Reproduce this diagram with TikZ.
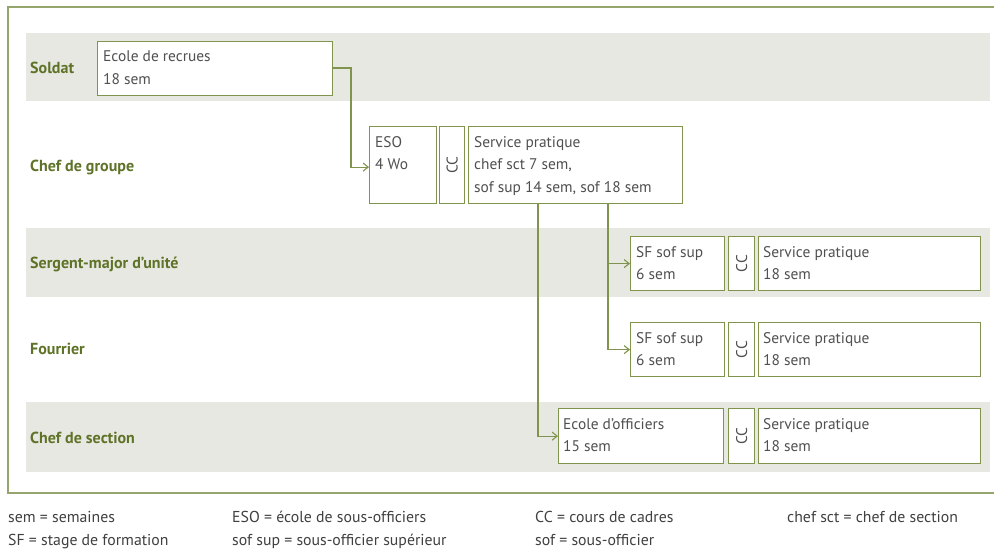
\documentclass[tikz,border=0pt]{standalone}
\usepackage{fontspec}
\setmainfont{PT Sans}
\usetikzlibrary{arrows.meta,calc}
\definecolor{olive}{RGB}{128,148,78}
\definecolor{frameol}{RGB}{150,165,110}
\definecolor{labgreen}{RGB}{95,115,40}
\definecolor{band}{RGB}{232,232,226}
\definecolor{txtgray}{RGB}{80,80,80}
\tikzset{
  box/.style={draw=olive, line width=1.2pt, fill=white, inner sep=0pt, anchor=north west},
  txt/.style={anchor=north west, inner sep=0pt, align=left, text=txtgray, font=\fontsize{15.4}{22.5}\selectfont},
  cc/.style={rotate=90, text=txtgray, font=\fontsize{15.5}{15.5}\selectfont, inner sep=0pt},
  lab/.style={anchor=west, inner sep=0pt, text=labgreen, font=\bfseries\fontsize{16}{18}\selectfont},
  leg/.style={anchor=base west, inner sep=0pt, text=black!75, font=\fontsize{15.8}{17}\selectfont},
  conn/.style={draw=olive, line width=1.1pt},
  arr/.style={conn, -{Straight Barb[length=5pt,width=8pt]}},
}
\begin{document}
\begin{tikzpicture}[x=1pt,y=-1pt]
\useasboundingbox (0,0) rectangle (994,549);
\fill[white] (0,0) rectangle (994,549);
% outer frame
\draw[frameol, line width=1.4pt] (1000,7) -- (8,7) -- (8,493) -- (1000,493);
% bands
\fill[band] (26,33) rectangle (990,101);
\fill[band] (26,228) rectangle (990,297);
\fill[band] (26,402) rectangle (990,472);
% labels
\node[lab] (lsold) at (30,68) {Soldat};
\node[lab] (lgrp) at (30,167) {Chef de groupe};
\node[lab] (lsgt) at (30,264) {Sergent-major d’unité};
\node[lab] (lfour) at (30,349) {Fourrier};
\node[lab] (lsct) at (30,438) {Chef de section};
% Soldat
\node[box, minimum width=235, minimum height=54] (rec) at (97,41) {};
\node[txt] (trec) at (103,51) {Ecole de recrues\\18 sem};
% Chef de groupe
\node[box, minimum width=67, minimum height=77] (eso) at (369,126) {};
\node[txt] (teso) at (375,136) {ESO\\4 Wo};
\node[box, minimum width=25, minimum height=77] (cc1) at (439,126) {};
\node[cc] (tcc1) at (cc1.center) {CC};
\node[box, minimum width=214, minimum height=77] (sp1) at (468,126) {};
\node[txt] (tsp1) at (474,136) {Service pratique\\chef sct 7 sem,\\sof sup 14 sem, sof 18 sem};
% Sergent-major
\node[box, minimum width=94, minimum height=54] (sf1) at (630,236) {};
\node[txt] (tsf1) at (636,246) {SF sof sup\\6 sem};
\node[box, minimum width=26, minimum height=54] (cc2) at (728,236) {};
\node[cc] (tcc2) at (cc2.center) {CC};
\node[box, minimum width=222, minimum height=54] (sp2) at (758,236) {};
\node[txt] (tsp2) at (763,246) {Service pratique\\18 sem};
% Fourrier
\node[box, minimum width=94, minimum height=54] (sf2) at (630,322) {};
\node[txt] (tsf2) at (636,332) {SF sof sup\\6 sem};
\node[box, minimum width=26, minimum height=54] (cc3) at (728,322) {};
\node[cc] (tcc3) at (cc3.center) {CC};
\node[box, minimum width=222, minimum height=54] (sp3) at (758,322) {};
\node[txt] (tsp3) at (763,332) {Service pratique\\18 sem};
% Chef de section
\node[box, minimum width=165, minimum height=55] (eo) at (558,408) {};
\node[txt] (teo) at (563,418) {Ecole d’officiers\\15 sem};
\node[box, minimum width=26, minimum height=55] (cc4) at (728,408) {};
\node[cc] (tcc4) at (cc4.center) {CC};
\node[box, minimum width=222, minimum height=55] (sp4) at (758,408) {};
\node[txt] (tsp4) at (763,418) {Service pratique\\18 sem};
% connectors
\coordinate (k1) at (351,68);
\draw[arr] (rec.east |- k1) -- (k1) |- ($(eso.west)+(0,2)$);
\coordinate (d1) at (538,0);
\coordinate (d2) at (608,0);
\draw[arr] (sp1.south -| d1) |- (eo.west);
\draw[arr] (sp1.south -| d2) |- (sf1.west);
\draw[arr] (sp1.south -| d2) |- (sf2.west);
% legend
\node[leg] (g1) at (8,522) {sem = semaines};
\node[leg] (g2) at (8,545) {SF = stage de formation};
\node[leg] (g3) at (232,522) {ESO = école de sous-officiers};
\node[leg] (g4) at (232,545) {sof sup = sous-officier supérieur};
\node[leg] (g5) at (535,522) {CC = cours de cadres};
\node[leg] (g6) at (535,545) {sof = sous-officier};
\node[leg] (g7) at (787,522) {chef sct = chef de section};
\end{tikzpicture}
\end{document}
